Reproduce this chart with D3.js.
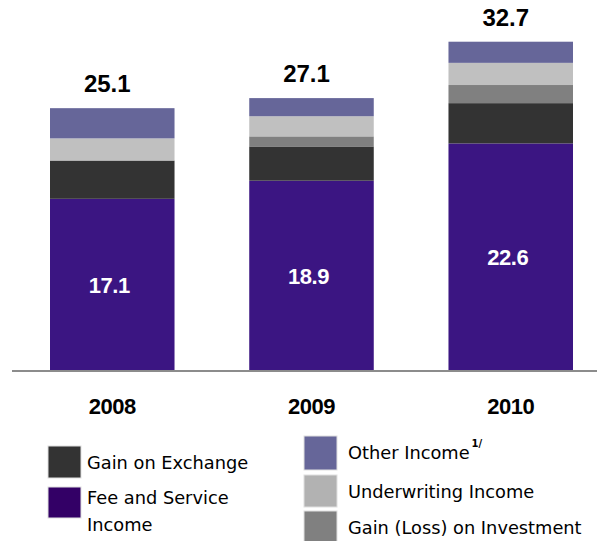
<!DOCTYPE html>
<html>
<head>
<meta charset="utf-8">
<script src="https://cdn.jsdelivr.net/npm/d3@7"></script>
<style>
  body { margin: 0; background: #fff; }
  svg { display: block; }
</style>
</head>
<body>
<div id="chart"></div>
<script>
// Chart data
const years = ["2008", "2009", "2010"];
const feeIncome = [17.1, 18.9, 22.6];
const gainExchange = [3.8, 3.4, 4.0];
const gainInvestment = [-1.0, 1.0, 1.8];
const underwriting = [2.2, 2.0, 2.2];
const otherIncome = [3.0, 1.8, 2.1];
const totalLabels = ["25.1", "27.1", "32.7"];

const seriesKeys = ["fee", "exchange", "investment", "underwriting", "other"];
const colors = {
    fee: "#3b1582",
    exchange: "#333333",
    investment: "#808080",
    underwriting: "#c0c0c0",
    other: "#666699"
};

function createIncomeChart() {
    const width = 597;
    const height = 541;
    const baseline = 371;

    const rows = years.map((y, i) => ({
        year: y,
        fee: feeIncome[i],
        exchange: gainExchange[i],
        investment: gainInvestment[i],
        underwriting: underwriting[i],
        other: otherIncome[i]
    }));

    const svg = d3.select("#chart")
        .append("svg")
        .attr("width", width)
        .attr("height", height);

    const x = d3.scaleBand()
        .domain(years)
        .range([50, 573])
        .paddingInner(0.375)
        .paddingOuter(0);

    const y = d3.scaleLinear()
        .domain([0, 35])
        .range([baseline, baseline - 35 * 10.07]);

    // Losses are not drawn as segments, only counted in the total
    const stack = d3.stack()
        .keys(seriesKeys)
        .value((d, k) => Math.max(0, d[k]));

    const layers = stack(rows);

    svg.append("g")
        .selectAll("g")
        .data(layers)
        .join("g")
            .attr("fill", d => colors[d.key])
        .selectAll("rect")
        .data(d => d)
        .join("rect")
            .attr("x", d => x(d.data.year))
            .attr("y", d => y(d[1]))
            .attr("width", x.bandwidth())
            .attr("height", d => y(d[0]) - y(d[1]));

    // Axis line
    svg.append("line")
        .attr("x1", 12).attr("x2", width)
        .attr("y1", baseline).attr("y2", baseline)
        .attr("stroke", "#8c8c8c")
        .attr("stroke-width", 2);

    // Fee values inside the bars
    svg.append("g")
        .selectAll("text")
        .data(layers[0])
        .join("text")
            .attr("x", d => x(d.data.year) + x.bandwidth() / 2 - 3)
            .attr("y", d => (y(d[0]) + y(d[1])) / 2)
            .attr("dy", "0.35em")
            .attr("text-anchor", "middle")
            .attr("fill", "#fff")
            .attr("font-family", "Liberation Sans, Arial, sans-serif")
            .attr("font-weight", "bold")
            .attr("font-size", 22)
            .attr("letter-spacing", -0.5)
            .text(d => d.data.fee.toFixed(1));

    // Totals above the bars
    const top = layers[layers.length - 1];
    svg.append("g")
        .selectAll("text")
        .data(top)
        .join("text")
            .attr("x", d => x(d.data.year) + x.bandwidth() / 2 - 5)
            .attr("y", d => y(d[1]) - 16)
            .attr("text-anchor", "middle")
            .attr("fill", "#000")
            .attr("font-family", "Liberation Sans, Arial, sans-serif")
            .attr("font-weight", "bold")
            .attr("font-size", 24)
            .text((d, i) => totalLabels[i]);

    // Year labels under the bars
    svg.append("g")
        .selectAll("text")
        .data(years)
        .join("text")
            .attr("x", d => x(d) + x.bandwidth() / 2)
            .attr("y", 414)
            .attr("text-anchor", "middle")
            .attr("fill", "#000")
            .attr("font-family", "Liberation Sans, Arial, sans-serif")
            .attr("font-weight", "bold")
            .attr("font-size", 22)
            .attr("letter-spacing", -0.5)
            .text(d => d);

    // Legend
    const legendItems = [
        { key: "exchange", x: 48, y: 446, h: 32, dx: 39, lines: ["Gain on Exchange"] },
        { key: "fee", x: 48, y: 487, h: 31, dx: 39, lines: ["Fee and Service", "Income"] },
        { key: "other", x: 304, y: 436, h: 34, dx: 44, lines: ["Other Income"], note: "1/" },
        { key: "underwriting", x: 304, y: 475, h: 32, dx: 44, lines: ["Underwriting Income"] },
        { key: "investment", x: 304, y: 511, h: 32, dx: 44, lines: ["Gain (Loss) on Investment"] }
    ];
    const legendSwatch = { exchange: "#333333", fee: "#330066", other: "#666699", underwriting: "#b2b2b2", investment: "#808080" };

    const legend = svg.append("g")
        .selectAll("g")
        .data(legendItems)
        .join("g")
            .attr("transform", d => `translate(${d.x},${d.y})`);

    legend.append("rect")
        .attr("width", 33)
        .attr("height", d => d.h)
        .attr("fill", d => legendSwatch[d.key])
        .attr("stroke", "#e0e0e0")
        .attr("stroke-width", 1);

    legend.each(function(d) {
        const g = d3.select(this);
        d.lines.forEach((line, j) => {
            const t = g.append("text")
                .attr("x", d.dx)
                .attr("y", (d.lines.length > 1 ? 11 : 17) + j * 27)
                .attr("dy", "0.35em")
                .attr("fill", "#000")
                .attr("font-family", "DejaVu Sans, Verdana, sans-serif")
                .attr("font-size", 17.8)
                .text(line);
            // Footnote marker after the label
            if (d.note) {
                const w = t.node().getComputedTextLength();
                g.append("text")
                    .attr("x", d.dx + w + 2)
                    .attr("y", 11)
                    .attr("font-family", "DejaVu Sans, Verdana, sans-serif")
                    .attr("font-size", 10)
                    .attr("font-weight", "bold")
                    .text(d.note);
            }
        });
    });

    return svg.node();
}

createIncomeChart();
</script>
</body>
</html>
